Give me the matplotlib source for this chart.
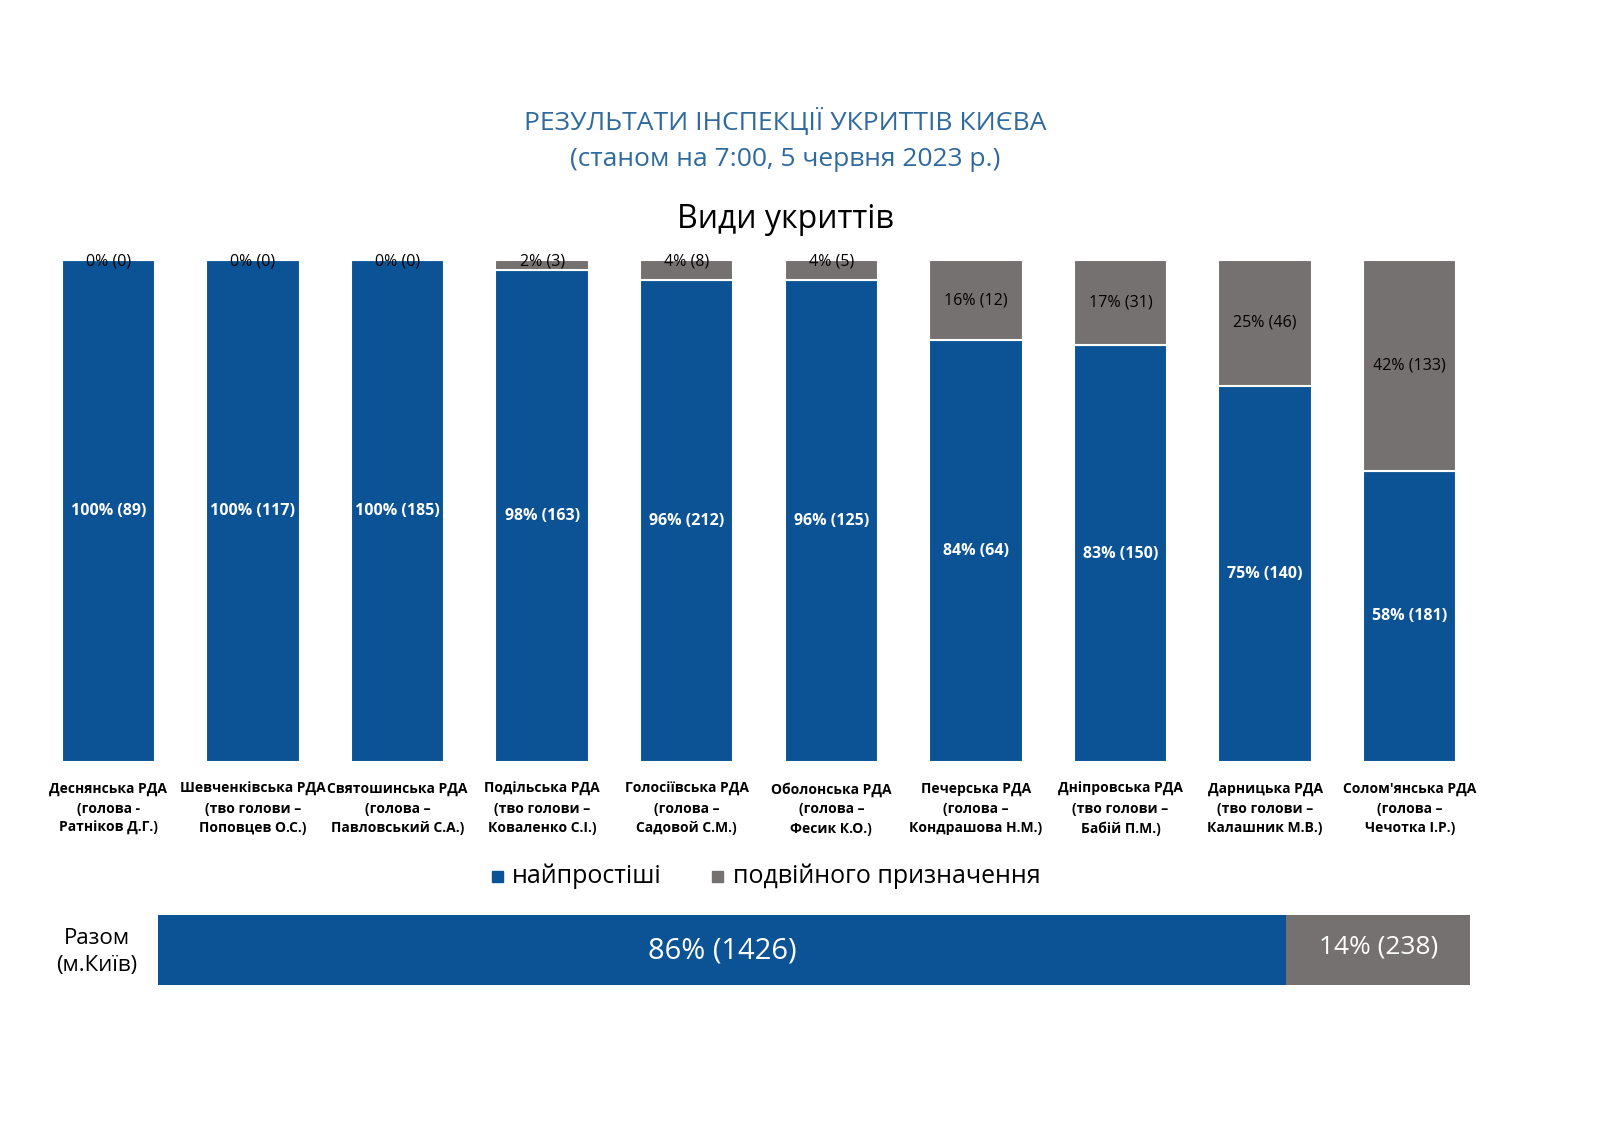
import matplotlib
matplotlib.use("Agg")
import matplotlib.pyplot as plt
from matplotlib.patches import Rectangle

plt.rcParams["font.family"] = "Open Sans"

categories = ["Деснянська РДА\n(голова -\nРатніков Д.Г.)",
              "Шевченківська РДА\n(тво голови –\nПоповцев О.С.)",
              "Святошинська РДА\n(голова –\nПавловський С.А.)",
              "Подільська РДА\n(тво голови –\nКоваленко С.І.)",
              "Голосіївська РДА\n(голова –\nСадовой С.М.)",
              "Оболонська РДА\n(голова –\nФесик К.О.)",
              "Печерська РДА\n(голова –\nКондрашова Н.М.)",
              "Дніпровська РДА\n(тво голови –\nБабій П.М.)",
              "Дарницька РДА\n(тво голови –\nКалашник М.В.)",
              "Солом'янська РДА\n(голова –\nЧечотка І.Р.)"]
simple_pct = [100, 100, 100, 98, 96, 96, 84, 83, 75, 58]
simple_cnt = [89, 117, 185, 163, 212, 125, 64, 150, 140, 181]
dual_pct = [0, 0, 0, 2, 4, 4, 16, 17, 25, 42]
dual_cnt = [0, 0, 0, 3, 8, 5, 12, 31, 46, 133]
total_pct = [86, 14]
total_cnt = [1426, 238]
series_names = ["найпростіші", "подвійного призначення"]

BLUE = "#0b5394"
GRAY = "#767171"
TITLE = "#2f6a9f"

fig = plt.figure(figsize=(16, 11.3), dpi=100)
W, H = 1600, 1130

fig.text(785/W, 1-122/H, "РЕЗУЛЬТАТИ ІНСПЕКЦІЇ УКРИТТІВ КИЄВА", ha="center", va="center", fontsize=19, color=TITLE)
fig.text(785/W, 1-160/H, "(станом на 7:00, 5 червня 2023 р.)", ha="center", va="center", fontsize=19, color=TITLE)
fig.text(785/W, 1-220/H, "Види укриттів", ha="center", va="center", fontsize=23, color="black")

ax = fig.add_axes([36/W, 1-762/H, 1446/W, 502/H])
x = list(range(len(categories)))
ax.bar(x, simple_pct, width=0.645, color=BLUE, edgecolor="white", linewidth=1.5)
ax.bar(x, dual_pct, bottom=simple_pct, width=0.645, color=GRAY, edgecolor="white", linewidth=1.5)
ax.set_xlim(-0.5, 9.5)
ax.set_ylim(0, 100)
ax.axis("off")
for i in x:
    ax.text(i, simple_pct[i]/2, f"{simple_pct[i]}% ({simple_cnt[i]})", ha="center", va="center",
            color="white", fontsize=11.5, fontweight="bold")
    if dual_pct[i] >= 10:
        ax.text(i, simple_pct[i] + dual_pct[i]/2, f"{dual_pct[i]}% ({dual_cnt[i]})", ha="center", va="center",
                color="black", fontsize=11.5)
    else:
        ax.text(i, 99.8, f"{dual_pct[i]}% ({dual_cnt[i]})", ha="center", va="center",
                color="black", fontsize=11.5)
    ax.text(i, -4, categories[i], ha="center", va="top", fontsize=10, fontweight="bold", linespacing=1.5)

# legend
fig.patches.append(Rectangle((492/W, 1-882/H), 11/W, 11/H, transform=fig.transFigure, color=BLUE))
fig.text(512/W, 1-876/H, series_names[0], ha="left", va="center", fontsize=18)
fig.patches.append(Rectangle((712/W, 1-882/H), 11/W, 11/H, transform=fig.transFigure, color=GRAY))
fig.text(733/W, 1-876/H, series_names[1], ha="left", va="center", fontsize=18)

# total bar
ax2 = fig.add_axes([158/W, 1-985/H, 1312/W, 70/H])
ax2.barh([0], [total_pct[0]], height=1, color=BLUE)
ax2.barh([0], [total_pct[1]], left=[total_pct[0]], height=1, color=GRAY)
ax2.set_xlim(0, 100); ax2.set_ylim(-0.5, 0.5)
ax2.axis("off")
ax2.text(total_pct[0]/2, -0.02, f"{total_pct[0]}% ({total_cnt[0]})", ha="center", va="center", color="white", fontsize=21)
ax2.text(total_pct[0] + total_pct[1]/2, 0.05, f"{total_pct[1]}% ({total_cnt[1]})", ha="center", va="center", color="white", fontsize=19)
fig.text(97/W, 1-952/H, "Разом\n(м.Київ)", ha="center", va="center", fontsize=16, linespacing=1.4)

fig.savefig("out.png", dpi=100, facecolor="white")
